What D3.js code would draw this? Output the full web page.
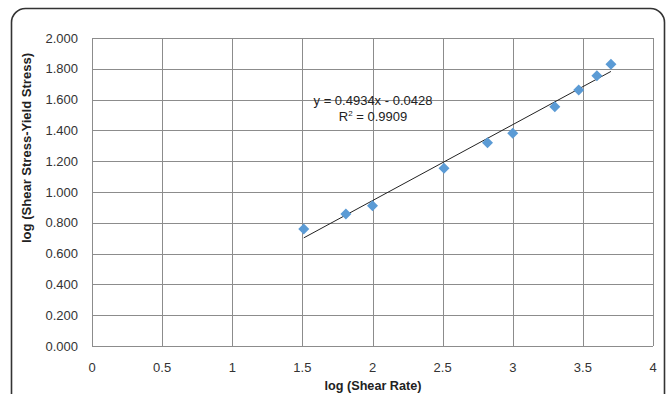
<!DOCTYPE html>
<html>
<head>
<meta charset="utf-8">
<script src="https://cdn.jsdelivr.net/npm/d3@7"></script>
<style>
  body { margin: 0; background: #fff; }
  svg { display: block; font-family: "Liberation Sans", Arial, sans-serif; }
</style>
</head>
<body>
<div class="canvas"></div>
<script>
// log shear rate vs log (shear stress - yield stress)
const logShearRate = [1.51, 1.81, 2.00, 2.51, 2.82, 3.00, 3.30, 3.47, 3.60, 3.70];
const logStress = [0.760, 0.857, 0.911, 1.154, 1.320, 1.381, 1.554, 1.662, 1.755, 1.829];

const xTicks = [0, 0.5, 1, 1.5, 2, 2.5, 3, 3.5, 4];
const yTicks = [0, 0.2, 0.4, 0.6, 0.8, 1.0, 1.2, 1.4, 1.6, 1.8, 2.0];

// trendline from excel
const slope = 0.4934;
const intercept = -0.0428;
const rSquared = 0.9909;

const width = 667, height = 394;

const svg = d3.select('.canvas')
  .append('svg')
  .attr('width', width)
  .attr('height', height);

// chart border (rounded, runs off the bottom)
svg.append('rect')
  .attr('x', 11.5)
  .attr('y', 8.5)
  .attr('width', 653)
  .attr('height', 430)
  .attr('rx', 14)
  .attr('fill', 'none')
  .attr('stroke', '#333')
  .attr('stroke-width', 1.6);

const x = d3.scaleLinear().domain([0, 4]).range([92, 653]);
const y = d3.scaleLinear().domain([0, 2]).range([346, 38]);

// gridlines
svg.append('g')
  .selectAll('line')
  .data(yTicks)
  .enter()
  .append('line')
  .attr('x1', x(0)).attr('x2', x(4))
  .attr('y1', d => Math.round(y(d)) + 0.5)
  .attr('y2', d => Math.round(y(d)) + 0.5)
  .attr('stroke', '#8c8c8c');

svg.append('g')
  .selectAll('line')
  .data(xTicks)
  .enter()
  .append('line')
  .attr('x1', d => Math.round(x(d)) + 0.5)
  .attr('x2', d => Math.round(x(d)) + 0.5)
  .attr('y1', y(0)).attr('y2', y(2))
  .attr('stroke', '#8c8c8c');

// tick labels
svg.append('g')
  .selectAll('text')
  .data(yTicks)
  .enter()
  .append('text')
  .attr('x', 78)
  .attr('y', d => y(d))
  .attr('dy', '0.35em')
  .attr('text-anchor', 'end')
  .attr('font-size', 13)
  .attr('fill', '#333')
  .text(d => d3.format('.3f')(d));

svg.append('g')
  .selectAll('text')
  .data(xTicks)
  .enter()
  .append('text')
  .attr('x', d => x(d))
  .attr('y', 367)
  .attr('dy', '0.35em')
  .attr('text-anchor', 'middle')
  .attr('font-size', 13)
  .attr('fill', '#333')
  .text(d => d);

// axis titles
svg.append('text')
  .attr('transform', 'translate(31, 148) rotate(-90)')
  .attr('text-anchor', 'middle')
  .attr('font-size', 12)
  .attr('font-weight', 'bold')
  .attr('fill', '#222')
  .attr('textLength', 190)
  .attr('lengthAdjust', 'spacingAndGlyphs')
  .text('log (Shear Stress-Yield Stress)');

svg.append('text')
  .attr('x', 373)
  .attr('y', 390)
  .attr('text-anchor', 'middle')
  .attr('font-size', 12)
  .attr('font-weight', 'bold')
  .attr('fill', '#222')
  .attr('textLength', 97)
  .attr('lengthAdjust', 'spacingAndGlyphs')
  .text('log (Shear Rate)');

// trendline over data range
const [x0, x1] = d3.extent(logShearRate);
svg.append('line')
  .attr('x1', x(x0)).attr('y1', y(slope * x0 + intercept))
  .attr('x2', x(x1)).attr('y2', y(slope * x1 + intercept))
  .attr('stroke', '#222')
  .attr('stroke-width', 1);

// points
const pts = logShearRate.map((d, i) => ({ x: d, y: logStress[i] }));
svg.append('g')
  .selectAll('path')
  .data(pts)
  .enter()
  .append('path')
  .attr('transform', d => `translate(${x(d.x)}, ${y(d.y)})`)
  .attr('d', 'M0,-5.5L5.5,0L0,5.5L-5.5,0Z')
  .attr('fill', '#5b9bd5');

// equation label
const eq = svg.append('text')
  .attr('text-anchor', 'middle')
  .attr('font-size', 13)
  .attr('fill', '#222');
eq.append('tspan')
  .attr('x', 373).attr('y', 105)
  .text(`y = ${slope}x - ${Math.abs(intercept)}`);
const r2 = eq.append('tspan')
  .attr('x', 373).attr('y', 121);
r2.append('tspan').text('R');
r2.append('tspan').attr('dy', -5).attr('font-size', 8).text('2');
r2.append('tspan').attr('dy', 5).text(` = ${rSquared}`);
</script>
</body>
</html>
